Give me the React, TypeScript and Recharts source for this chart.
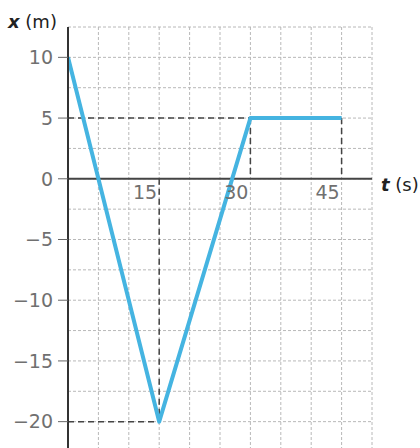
import React from 'react';
import {
  ComposedChart,
  Line,
  Scatter,
  XAxis,
  YAxis,
  CartesianGrid,
  ReferenceLine,
} from 'recharts';

// Data
const timeS = [0, 15, 30, 45];
const positionM = [10, -20, 5, 5];
const yTickValues = [10, 5, 0, -5, -10, -15, -20];
const xTickLabels = [15, 30, 45];
const gridT = [0, 5, 10, 15, 20, 25, 30, 35, 40, 45, 50];
const gridX = [12.5, 10, 7.5, 5, 2.5, 0, -2.5, -5, -7.5, -10, -12.5, -15, -17.5, -20, -22.5];

const lineData = timeS.map((t, i) => ({ t, x: positionM[i] }));
const xLabelData = xTickLabels.map((t) => ({ t, x: 0 }));

const FONT = '"DejaVu Sans", sans-serif';
const LABEL_COLOR = '#707070';

const fmt = (v: number) => (v < 0 ? '\u2212' + Math.abs(v) : String(v));

const XLabel = (props: any) => {
  const { cx, cy, payload } = props;
  return (
    <text
      x={cx - 2}
      y={cy + 20}
      textAnchor="end"
      fontSize={19}
      fontFamily={FONT}
      fill={LABEL_COLOR}
    >
      {payload.t}
    </text>
  );
};

const dash = { stroke: '#444', strokeWidth: 1.5, strokeDasharray: '6 4' };

export default function App() {
  return (
    <div
      style={{
        position: 'absolute',
        left: 0,
        top: 0,
        width: 420,
        height: 448,
        overflow: 'hidden',
        background: '#fff',
      }}
    >
      <ComposedChart
        width={420}
        height={452}
        margin={{ top: 27, right: 48, bottom: 0, left: 0 }}
      >
        <CartesianGrid
          stroke="#b8b8b8"
          strokeDasharray="3 2"
          horizontalValues={gridX}
          verticalValues={gridT}
        />
        <XAxis
          type="number"
          dataKey="t"
          domain={[0, 50]}
          hide
          allowDataOverflow
        />
        <YAxis
          type="number"
          dataKey="x"
          domain={[-22.5, 12.5]}
          ticks={yTickValues}
          interval={0}
          allowDataOverflow
          width={68}
          tickSize={10}
          tickMargin={5}
          tickFormatter={fmt}
          axisLine={{ stroke: '#333', strokeWidth: 2 }}
          tickLine={{ stroke: '#666', strokeWidth: 1 }}
          tick={{ fontSize: 19, fontFamily: FONT, fill: LABEL_COLOR }}
        />
        <ReferenceLine y={0} stroke="#444" strokeWidth={2} />
        <ReferenceLine segment={[{ x: 0, y: 5 }, { x: 30, y: 5 }]} {...dash} />
        <ReferenceLine segment={[{ x: 30, y: 5 }, { x: 30, y: 0 }]} {...dash} />
        <ReferenceLine segment={[{ x: 45, y: 5 }, { x: 45, y: 0 }]} {...dash} />
        <ReferenceLine segment={[{ x: 0, y: -20 }, { x: 15, y: -20 }]} {...dash} />
        <ReferenceLine segment={[{ x: 15, y: 0 }, { x: 15, y: -20 }]} {...dash} />
        <Scatter
          data={xLabelData}
          dataKey="x"
          shape={XLabel}
          isAnimationActive={false}
        />
        <Line
          data={lineData}
          dataKey="x"
          type="linear"
          stroke="#45b4e1"
          strokeWidth={4}
          strokeLinejoin="round"
          dot={false}
          activeDot={false}
          isAnimationActive={false}
        />
      </ComposedChart>
      <div
        style={{
          position: 'absolute',
          left: 8,
          top: 11,
          fontFamily: FONT,
          fontSize: 18,
          color: '#222',
          whiteSpace: 'nowrap',
        }}
      >
        <span style={{ fontStyle: 'italic', fontWeight: 'bold' }}>x</span> (m)
      </div>
      <div
        style={{
          position: 'absolute',
          left: 381,
          top: 174,
          fontFamily: FONT,
          fontSize: 18,
          color: '#222',
          whiteSpace: 'nowrap',
        }}
      >
        <span style={{ fontStyle: 'italic', fontWeight: 'bold' }}>t</span> (s)
      </div>
    </div>
  );
}
